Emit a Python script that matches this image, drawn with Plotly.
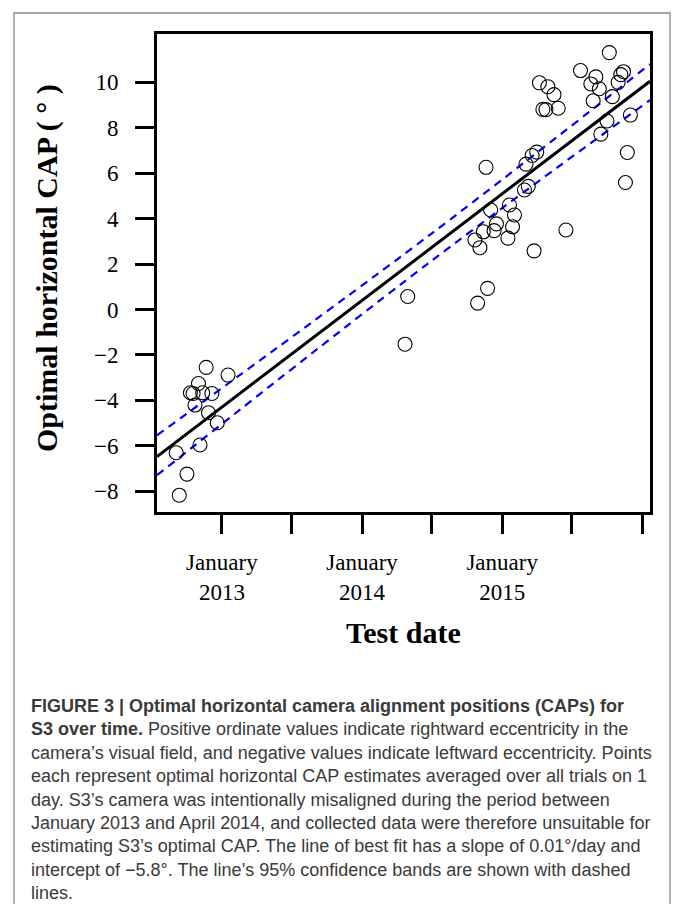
import numpy as np
import plotly.graph_objects as go

# ---------------- data ----------------
test_dates = [
    "2012-09-04", "2012-09-12", "2012-10-02", "2012-10-11", "2012-10-18",
    "2012-10-23", "2012-11-01", "2012-11-05", "2012-11-12", "2012-11-21",
    "2012-11-27", "2012-12-06", "2012-12-20", "2013-01-17",
    "2014-04-23", "2014-04-30",
    "2014-10-22", "2014-10-29", "2014-11-04", "2014-11-13", "2014-11-20",
    "2014-11-24", "2014-12-02", "2014-12-11", "2014-12-17",
    "2015-01-16", "2015-01-20", "2015-01-28", "2015-02-02", "2015-02-28",
    "2015-03-04", "2015-03-10", "2015-03-20", "2015-03-25", "2015-04-01",
    "2015-04-08", "2015-04-17", "2015-04-25", "2015-04-30", "2015-05-16",
    "2015-05-27", "2015-06-16", "2015-07-24", "2015-08-20", "2015-08-26",
    "2015-09-02", "2015-09-11", "2015-09-15", "2015-10-01", "2015-10-07",
    "2015-10-15", "2015-10-30", "2015-11-06", "2015-11-13", "2015-11-18",
    "2015-11-23", "2015-12-01",
]
cap_values = [
    -6.31, -8.18, -7.25, -3.67, -3.70,
    -4.21, -3.26, -5.97, -3.67, -2.55,
    -4.55, -3.70, -4.99, -2.89,
    -1.53, 0.57,
    3.06, 0.28, 2.72, 3.42, 6.26,
    0.93, 4.38, 3.47, 3.77,
    3.14, 4.60, 3.64, 4.16, 5.26,
    6.40, 5.42, 6.78, 2.58, 6.93,
    9.98, 8.81, 8.80, 9.81, 9.46,
    8.86, 3.50, 10.52, 9.93, 9.19,
    10.24, 9.72, 7.72, 8.30, 11.31,
    9.37, 10.00, 10.34, 10.47, 5.59,
    6.91, 8.56,
]
# 95% confidence band of the fitted line
band_dates = ["2012-07-16", "2014-07-01", "2016-01-21"]
band_upper = [-5.54, 3.34, 10.80]
band_lower = [-7.30, 2.14, 9.22]

y_tick_values = [-8, -6, -4, -2, 0, 2, 4, 6, 8, 10]
x_tick_dates = ["2013-01-01", "2013-07-01", "2014-01-01", "2014-07-01",
                "2015-01-01", "2015-07-01", "2016-01-01"]
x_tick_labels = ["January<br>2013", "", "January<br>2014", "",
                 "January<br>2015", "", ""]
x_range = ["2012-07-16", "2016-01-21"]
y_range = [-8.92, 12.13]

caption_lines = [
    "<b>FIGURE 3 | Optimal horizontal camera alignment positions (CAPs) for</b>",
    "<b>S3 over time.</b> Positive ordinate values indicate rightward eccentricity in the",
    "camera’s visual field, and negative values indicate leftward eccentricity. Points",
    "each represent optimal horizontal CAP estimates averaged over all trials on 1",
    "day. S3’s camera was intentionally misaligned during the period between",
    "January 2013 and April 2014, and collected data were therefore unsuitable for",
    "estimating S3’s optimal CAP. The line of best fit has a slope of 0.01°/day and",
    "intercept of −5.8°. The line’s 95% confidence bands are shown with dashed",
    "lines.",
]

# ---------------- least-squares line of best fit ----------------
d = np.array(test_dates, dtype="datetime64[D]")
t0 = d.min()
t = (d - t0).astype(float)
v = np.array(cap_values, dtype=float)
slope, intercept = np.polyfit(t, v, 1)
ends = np.array(x_range, dtype="datetime64[D]")
fit_ends = slope * (ends - t0).astype(float) + intercept

# ---------------- layout geometry ----------------
W, H = 673, 904
L, R, T, B = 157, 23, 34, 392
PW, PH = W - L - R, H - T - B


def pxx(px):
    return (px - L) / PW


def pxy(py):
    return (H - B - py) / PH


serif = "Liberation Serif, Times New Roman, serif"
sans = "Liberation Sans, Arial, sans-serif"
dash_style = dict(color="#0000ff", width=2.2, dash="8px,6px")

fig = go.Figure()
fig.add_trace(go.Scatter(x=band_dates, y=band_upper, mode="lines",
                         line=dict(**dash_style, shape="spline", smoothing=1.0),
                         hoverinfo="skip", showlegend=False))
fig.add_trace(go.Scatter(x=band_dates, y=band_lower, mode="lines",
                         line=dict(**dash_style, shape="spline", smoothing=1.0),
                         hoverinfo="skip", showlegend=False))
fig.add_trace(go.Scatter(x=x_range, y=fit_ends, mode="lines",
                         line=dict(color="black", width=3),
                         hoverinfo="skip", showlegend=False))
fig.add_trace(go.Scatter(x=test_dates, y=cap_values, mode="markers",
                         marker=dict(symbol="circle-open", size=14,
                                     color="black", line=dict(width=1.1)),
                         showlegend=False))

fig.update_xaxes(type="date", range=x_range, tickmode="array",
                 tickvals=x_tick_dates, ticktext=x_tick_labels,
                 ticks="outside", ticklen=19, tickwidth=3, tickcolor="black",
                 ticklabelstandoff=8,
                 showline=True, linewidth=3, linecolor="black", mirror=True,
                 showgrid=False, zeroline=False,
                 tickfont=dict(family=serif, size=23, color="black"))
fig.update_yaxes(range=y_range, tickmode="array", tickvals=y_tick_values,
                 ticks="outside", ticklen=19, tickwidth=3, tickcolor="black",
                 ticklabelstandoff=12,
                 showline=True, linewidth=3, linecolor="black", mirror=True,
                 showgrid=False, zeroline=False,
                 tickfont=dict(family=serif, size=23, color="black"))

annotations = [
    dict(text="<b>Test date</b>", xref="paper", yref="paper",
         x=pxx(403.5), y=pxy(632), xanchor="center", yanchor="middle",
         showarrow=False, font=dict(family=serif, size=30, color="black")),
    dict(text="<b>Optimal horizontal CAP ( ° )</b>", xref="paper", yref="paper",
         x=pxx(47), y=pxy(268), xanchor="center", yanchor="middle",
         textangle=-90, showarrow=False,
         font=dict(family=serif, size=30, color="black")),
]
y0, dy = 706, 23.4
for i, line in enumerate(caption_lines):
    annotations.append(dict(
        text=line, xref="paper", yref="paper", x=pxx(29), y=pxy(y0 + i * dy),
        xanchor="left", yanchor="middle", showarrow=False, align="left",
        font=dict(family=sans, size=18, color="#3a3a3a")))

shapes = [dict(type="rect", xref="paper", yref="paper",
               x0=pxx(14), x1=pxx(670), y0=pxy(920), y1=pxy(13),
               line=dict(color="#8a8a8a", width=1.3), fillcolor="rgba(0,0,0,0)",
               layer="below")]

fig.update_layout(width=W, height=H, margin=dict(l=L, r=R, t=T, b=B, autoexpand=False),
                  paper_bgcolor="white", plot_bgcolor="white",
                  annotations=annotations, shapes=shapes)

fig.write_html("out.html", config={"displayModeBar": False},
               post_script="document.body.style.margin='0';")
